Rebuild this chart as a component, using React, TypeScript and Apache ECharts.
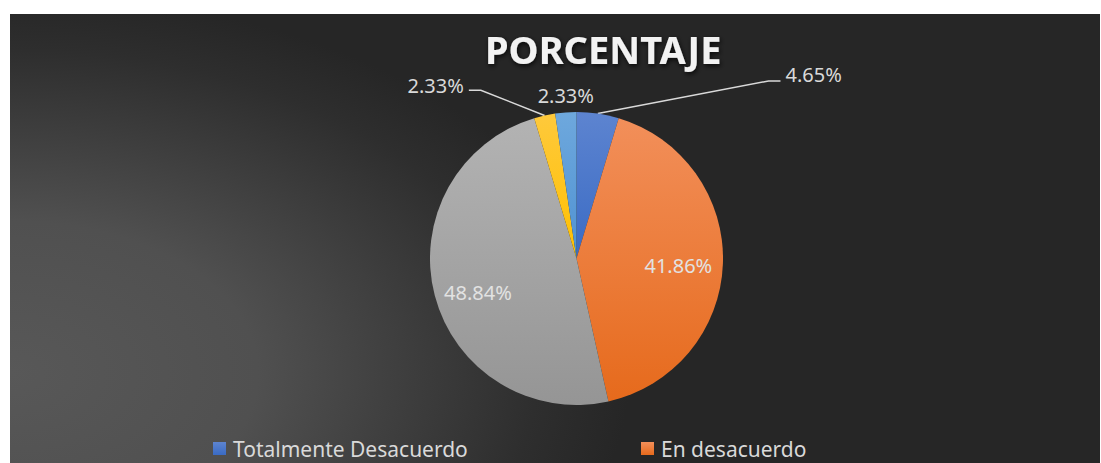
import React, { useEffect, useRef } from 'react';
import * as echarts from 'echarts';

// ---- data ----
const categories = [
  'Totalmente Desacuerdo',
  'En desacuerdo',
  'Ni de acuerdo ni en desacuerdo',
  'De acuerdo',
  'Totalmente de acuerdo',
];
const percentages = [4.65, 41.86, 48.84, 2.33, 2.33];
const titleText = 'PORCENTAJE';
const legendRowNames = ['Totalmente Desacuerdo', 'En desacuerdo'];

// ---- styles ----
const FONT = "'Noto Sans', 'Open Sans', sans-serif";
const sliceColors: [string, string][] = [
  ['#5d84d0', '#3a6bc4'],
  ['#f28f5a', '#e66a1c'],
  ['#b3b3b3', '#959595'],
  ['#fec93c', '#ffc000'],
  ['#6ea8dd', '#4f92d2'],
];
// label placement per slice: 'out' = outside with leader, 'above' = just above slice, 'in' = inside
const labelMode = ['out', 'in', 'in', 'out', 'above'];
const outLine: Record<number, { length: number; length2: number; lineDrop: number }> = {
  0: { length: 39, length2: 177, lineDrop: 6 },
  3: { length: 31, length2: 69, lineDrop: 5 },
};
const insideShift: Record<number, number> = { 1: 3, 2: 8 };

const CENTER = [566.5, 244.5];
const RADIUS = 146.5;

function grad(c: [string, string]) {
  return new echarts.graphic.LinearGradient(0, 0, 0, 1, [
    { offset: 0, color: c[0] },
    { offset: 1, color: c[1] },
  ]);
}

const fmt = (p: any) => `${Number(p.value).toFixed(2)}%`;

export default function App() {
  const ref = useRef<HTMLDivElement>(null);

  useEffect(() => {
    if (!ref.current) return;
    const chart = echarts.init(ref.current, undefined, { renderer: 'svg' });

    const mainData = categories.map((name, i) => {
      const mode = labelMode[i];
      const item: any = {
        name,
        value: percentages[i],
        itemStyle: { color: grad(sliceColors[i]) },
      };
      if (mode === 'out') {
        const o = outLine[i];
        item.label = { show: true };
        item.labelLine = { show: true, length: o.length, length2: o.length2 };
      } else if (mode === 'above') {
        item.label = { show: true };
        item.labelLine = { show: true, length: 4, length2: 4, lineStyle: { opacity: 0 } };
      } else {
        item.label = { show: false };
        item.labelLine = { show: false };
      }
      return item;
    });

    const overlayData = categories.map((name, i) => ({
      name,
      value: percentages[i],
      itemStyle: { color: 'rgba(0,0,0,0)' },
      label: labelMode[i] === 'in' ? { show: true } : { show: false },
    }));

    const legendCommon = {
      icon: 'rect',
      itemWidth: 13,
      itemHeight: 13,
      padding: 0,
      top: 424,
      selectedMode: false,
      textStyle: { color: '#d9d9d9', fontSize: 21, fontFamily: FONT, padding: [0, 0, 0, 2] },
    };

    chart.setOption({
      animation: false,
      backgroundColor: 'transparent',
      title: {
        text: titleText,
        left: 475,
        top: 13,
        padding: 0,
        textStyle: {
          color: '#f2f2f2',
          fontSize: 38,
          fontWeight: 'bold',
          fontFamily: FONT,
          lineHeight: 44,
          textShadowColor: 'rgba(0,0,0,0.8)',
          textShadowBlur: 5,
          textShadowOffsetX: 1,
          textShadowOffsetY: 2,
        },
      },
      legend: [
        { ...legendCommon, left: 203, data: [legendRowNames[0]] },
        { ...legendCommon, left: 631, data: [legendRowNames[1]] },
      ],
      series: [
        {
          type: 'pie',
          center: CENTER,
          radius: RADIUS,
          startAngle: 90,
          clockwise: true,
          avoidLabelOverlap: false,
          emphasis: { disabled: true },
          label: {
            position: 'outside',
            formatter: fmt,
            color: '#d9d9d9',
            fontSize: 20,
            fontFamily: FONT,
            lineHeight: 24,
          },
          labelLine: { lineStyle: { color: '#d9d9d9', width: 1.5 }, smooth: false },
          labelLayout: (p: any) => {
            const pts = p.labelLinePoints;
            if (!pts) return {};
            if (labelMode[p.dataIndex] === 'above') {
              return {
                x: pts[0][0],
                y: pts[0][1] - 17,
                align: 'center',
                verticalAlign: 'middle',
              };
            }
            const drop = (outLine[p.dataIndex] && outLine[p.dataIndex].lineDrop) || 0;
            const end = pts[2];
            const sign = end[0] >= pts[1][0] ? 1 : -1;
            return {
              labelLinePoints: [
                pts[0],
                [end[0] - sign * 12, end[1] + drop],
                [end[0], end[1] + drop],
              ],
            };
          },
          data: mainData,
        },
        {
          type: 'pie',
          center: CENTER,
          radius: RADIUS * 1.35,
          startAngle: 90,
          clockwise: true,
          silent: true,
          avoidLabelOverlap: false,
          emphasis: { disabled: true },
          labelLine: { show: false },
          label: {
            position: 'inside',
            formatter: fmt,
            color: '#e2e2e2',
            fontSize: 20,
            fontFamily: FONT,
            lineHeight: 24,
          },
          labelLayout: (p: any) => ({ dy: insideShift[p.dataIndex] || 0 }),
          data: overlayData,
        },
      ],
    });

    return () => chart.dispose();
  }, []);

  return (
    <div
      style={{
        position: 'fixed',
        left: 0,
        top: 0,
        width: 1101,
        height: 463,
        background: '#ffffff',
        overflow: 'hidden',
      }}
    >
      <div
        ref={ref}
        style={{
          position: 'absolute',
          left: 10,
          top: 14,
          width: 1090,
          height: 449,
          background:
            'radial-gradient(620px 380px at 0px 359px, #585858 0%, #505050 40%, #2e2e2e 85%, #262626 100%), #262626',
        }}
      />
    </div>
  );
}
